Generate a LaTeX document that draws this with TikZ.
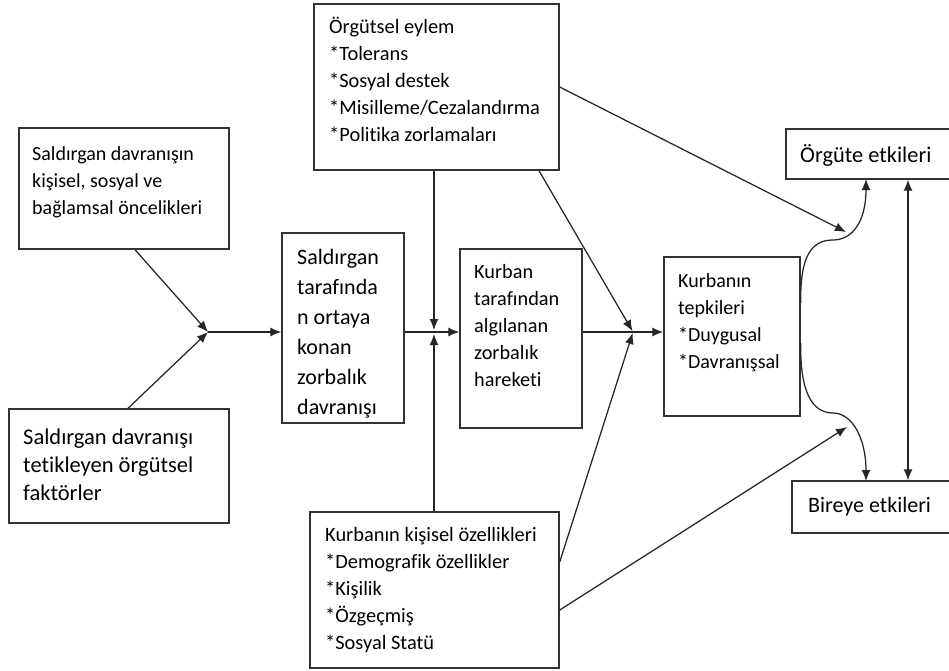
\documentclass[tikz,border=0pt]{standalone}
\usepackage{fontspec}
\setmainfont{Carlito}[Ligatures=NoCommon]
\usetikzlibrary{arrows.meta,calc}
\newcommand{\tlines}[1]{\begin{tabular}[t]{@{}l@{}}#1\end{tabular}}
\begin{document}
\begin{tikzpicture}[x=1pt,y=-1pt,
  box/.style={draw=black!80,line width=1.4pt,inner sep=0pt,fill=none},
  txt/.style={anchor=base west,inner sep=0pt,text=black},
  arr/.style={draw=black!85,line width=1.25pt,-{Latex[length=11pt,width=9pt]}},
  darr/.style={draw=black!85,line width=1.25pt,{Latex[length=11pt,width=9pt]}-{Latex[length=11pt,width=9pt]}},
  conn/.style={draw=black!85,line width=1.25pt}]
\useasboundingbox (0,0) rectangle (949,670);
\fill[white] (0,0) rectangle (949,670);
% boxes
\node[box,minimum width=210pt,minimum height=121pt] (A) at (124,188.5) {};
\node[box,minimum width=220pt,minimum height=114pt] (B) at (119,466) {};
\node[box,minimum width=122pt,minimum height=190pt] (C) at (343,328) {};
\node[box,minimum width=245pt,minimum height=166pt] (D) at (436.5,87) {};
\node[box,minimum width=122pt,minimum height=179pt] (E) at (521,338.5) {};
\node[box,minimum width=136pt,minimum height=159pt] (F) at (732,336.5) {};
\node[box,minimum width=169pt,minimum height=50pt] (G) at (870.5,154) {};
\node[box,minimum width=163pt,minimum height=52pt] (H) at (873.5,507) {};
\node[box,minimum width=249pt,minimum height=156pt] (I) at (434.5,590) {};
% texts
\node[txt,font=\fontsize{20}{27}\selectfont] (At) at (32,160) {\tlines{Saldırgan davranışın\\kişisel, sosyal ve\\bağlamsal öncelikleri}};
\node[txt,font=\fontsize{22.5}{28}\selectfont] (Bt) at (23,444) {\tlines{Saldırgan davranışı\\tetikleyen örgütsel\\faktörler}};
\node[txt,font=\fontsize{22}{30}\selectfont] (Ct) at (297,264) {\tlines{Saldırgan\\tarafında\\n ortaya\\konan\\zorbalık\\davranışı}};
\node[txt,font=\fontsize{20.4}{27}\selectfont] (Dt) at (329,33) {\tlines{Örgütsel eylem\\{}*Tolerans\\{}*Sosyal destek\\{}*Misilleme/Cezalandırma\\{}*Politika zorlamaları}};
\node[txt,font=\fontsize{20.3}{27}\selectfont] (Et) at (474,278) {\tlines{Kurban\\tarafından\\algılanan\\zorbalık\\hareketi}};
\node[txt,font=\fontsize{20}{27}\selectfont] (Ft) at (678,287) {\tlines{Kurbanın\\tepkileri\\{}*Duygusal\\{}*Davranışsal}};
\node[txt,font=\fontsize{22.4}{27}\selectfont] (Gt) at (800,162) {Örgüte etkileri};
\node[txt,font=\fontsize{22}{27}\selectfont] (Ht) at (808,512) {Bireye etkileri};
\node[txt,font=\fontsize{20.4}{27}\selectfont] (It) at (325,541) {\tlines{Kurbanın kişisel özellikleri\\{}*Demografik özellikler\\{}*Kişilik\\{}*Özgeçmiş\\{}*Sosyal Statü}};
% junctions
\coordinate (J1) at (208,332);
\coordinate (J2) at (434,332);
\coordinate (J3) at (633,332);
\coordinate (JG) at (846,232);
\coordinate (JH) at (847,427);
% connectors
\draw[arr] ([xshift=11pt]A.south) -- (J1);
\draw[arr] ([xshift=9pt]B.north) -- (J1);
\draw[arr] (J1) -- (J1 -| C.west);
\draw[arr,shorten >=2pt] (J2 |- D.south) -- (J2);
\draw[arr,shorten >=2pt] (J2 |- I.north) -- (J2);
\draw[arr] (J2 -| C.east) -- (J2 -| E.west);
\draw[arr,shorten >=1pt] ([xshift=102.5pt]D.south) -- (J3);
\draw[arr,shorten >=1pt] ([yshift=28pt]I.east) -- (J3);
\draw[arr] (J3 -| E.east) -- (J3 -| F.west);
\draw[arr] (D.east) -- (JG);
\draw[arr] ([yshift=-20pt]I.east) -- (JH);
\draw[arr] ([yshift=33.5pt]F.east) .. controls (800,255) and (812,240) .. (833,240) .. controls (852,240) and (866,222) .. (866,179);
\draw[arr] ([yshift=-6.5pt]F.east) .. controls (800,392) and (812,413) .. (833,413) .. controls (852,413) and (866,438) .. (866,481);
\draw[darr] ([xshift=37.5pt]G.south) -- ([xshift=34.5pt]H.north);
\end{tikzpicture}
\end{document}
